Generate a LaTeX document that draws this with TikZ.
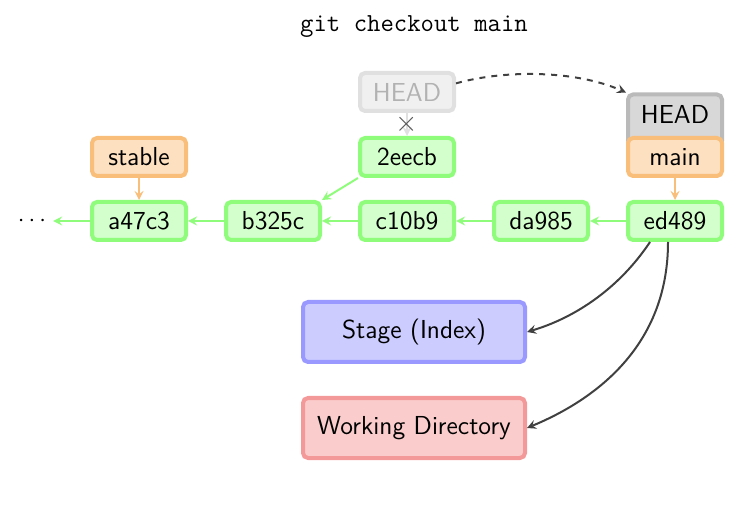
\documentclass[tikz,border=0pt]{standalone}
\usepackage{tikz}
\usetikzlibrary{arrows.meta,arrows,positioning,calc}
\definecolor{commitfill}{RGB}{210,255,204}
\definecolor{commitdraw}{RGB}{144,252,124}
\definecolor{branchfill}{RGB}{252,224,192}
\definecolor{branchdraw}{RGB}{248,190,122}
\definecolor{headfill}{RGB}{216,216,216}
\definecolor{headdraw}{RGB}{186,186,186}
\definecolor{ghostfill}{RGB}{240,240,240}
\definecolor{ghostdraw}{RGB}{224,224,224}
\definecolor{stagefill}{RGB}{204,204,255}
\definecolor{stagedraw}{RGB}{153,153,255}
\definecolor{workfill}{RGB}{250,204,204}
\definecolor{workdraw}{RGB}{244,153,153}
\definecolor{linkgray}{RGB}{64,64,64}
\tikzset{
  box/.style={rounded corners=2.5pt,line width=2pt,minimum width=47pt,
    minimum height=19pt,inner sep=0pt,font=\sffamily\fontsize{13}{15}\selectfont},
  commit/.style={box,fill=commitfill,draw=commitdraw},
  branch/.style={box,fill=branchfill,draw=branchdraw},
  headbox/.style={box,fill=headfill,draw=headdraw},
  ghost/.style={box,fill=ghostfill,draw=ghostdraw,text=black!30},
  area/.style={box,minimum width=111pt,minimum height=30pt},
  parent/.style={->,>=stealth,line width=1pt,commitdraw},
  ref/.style={->,>=stealth,line width=1pt,branchdraw},
  link/.style={->,>=stealth,line width=1pt,linkgray}
}
\begin{document}
\begin{tikzpicture}[x=0.5pt,y=-0.5pt]
  \useasboundingbox (0,0) rectangle (747,506);
  \node[font=\ttfamily\fontsize{13}{15}\selectfont] (title) at (414,27) {git checkout main};
  % commits
  \node[commit] (a47c3) at (139,221) {a47c3};
  \node[commit] (b325c) at (273,221) {b325c};
  \node[commit] (c10b9) at (407,221) {c10b9};
  \node[commit] (da985) at (541,221) {da985};
  \node[commit] (ed489) at (675,221) {ed489};
  \node[commit] (2eecb) at (407,157) {2eecb};
  \node[font=\large] (dots) at (32,221) {$\cdots$};
  % refs
  \node[branch] (stable) at (139,157) {stable};
  \node[headbox,minimum height=25.5pt,text depth=6pt] (head) at (675,120) {HEAD};
  \node[branch] (main) at (675,157) {main};
  \node[ghost] (oldhead) at (407,92) {HEAD};
  % areas
  \node[area,fill=stagefill,draw=stagedraw] (stage) at (414,332) {Stage (Index)};
  \node[area,fill=workfill,draw=workdraw] (work) at (414,428) {Working Directory};
  % history
  \draw[parent] (a47c3) -- (dots);
  \draw[parent] (b325c) -- (a47c3);
  \draw[parent] (c10b9) -- (b325c);
  \draw[parent] (da985) -- (c10b9);
  \draw[parent] (ed489) -- (da985);
  \draw[parent] (2eecb.south west) -- (b325c.north east);
  \draw[ref] (stable) -- (a47c3);
  \draw[ref] (main) -- (ed489);
  % head moves
  \draw[->,>=stealth,line width=1pt,black!12] (oldhead) -- (2eecb)
    node[midway,text=black!65,font=\Large] (cross) {$\times$};
  \draw[link,dashed] (oldhead.10) .. controls +(50,-14) and +(-50,-22) .. (head.north west);
  \draw[link] ([xshift=-12.5pt]ed489.south) .. controls +(-30,45) and +(50,-15) .. (stage.east);
  \draw[link] ([xshift=-3.5pt]ed489.south) .. controls +(0,110) and +(60,-25) .. (work.east);
\end{tikzpicture}
\end{document}
